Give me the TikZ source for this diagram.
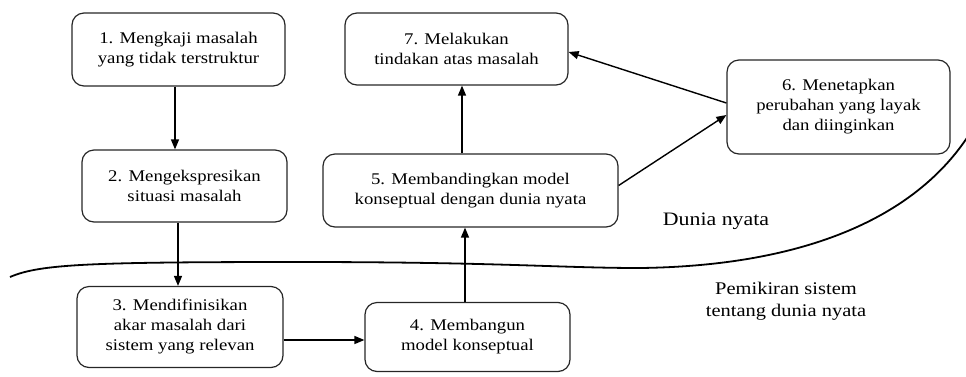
\documentclass[tikz,border=0pt]{standalone}
\usepackage{fontspec}
\setmainfont{Liberation Serif}[FakeStretch=1.15]
\usetikzlibrary{arrows.meta}
\begin{document}
\begin{tikzpicture}[x=1pt,y=-1pt,
  box/.style={draw=black!85,line width=1.2pt,rounded corners=12pt,align=center,
    font=\fontsize{16.3}{20}\selectfont,inner sep=0pt},
  lbl/.style={align=center,font=\fontsize{17.8}{22}\selectfont,fill=white,inner sep=0pt},
  arr/.style={line width=1.4pt,-{Triangle[length=10pt,width=8pt]}}]
\useasboundingbox (0,0) rectangle (966,376);
\node[box,minimum width=213pt,minimum height=73pt] (b1) at (178.5,49.5) {1. Mengkaji masalah\\yang tidak terstruktur};
\node[box,minimum width=205pt,minimum height=72pt] (b2) at (184.5,186) {2. Mengekspresikan\\situasi masalah};
\node[box,minimum width=206pt,minimum height=81pt] (b3) at (180,327) {3. Mendifinisikan\\akar masalah dari\\sistem yang relevan};
\node[box,minimum width=205pt,minimum height=69pt] (b4) at (467.5,337) {4. Membangun\\model konseptual};
\node[box,minimum width=295pt,minimum height=73pt] (b5) at (470.5,190.5) {5. Membandingkan model\\konseptual dengan dunia nyata};
\node[box,minimum width=223pt,minimum height=94pt] (b6) at (838.5,107) {6. Menetapkan\\perubahan yang layak\\dan diinginkan};
\node[box,minimum width=223pt,minimum height=72pt] (b7) at (456.5,49) {7. Melakukan\\tindakan atas masalah};
\node[lbl,font=\fontsize{19}{22}\selectfont] (d1) at (716,221) {Dunia nyata};
\node[lbl] (d2) at (786,301) {Pemikiran sistem\\tentang dunia nyata};
\draw[line width=1.8pt] (10,277) .. controls (40,264) and (90,262) .. (300,262)
  .. controls (500,262) and (560,268) .. (640,268)
  .. controls (800,266) and (920,220) .. (975,125);
\draw[arr] ([xshift=-3.5pt]b1.south) -- ([xshift=-9.5pt]b2.north);
\draw[arr] ([xshift=-6.5pt]b2.south) -- ([xshift=-2pt]b3.north);
\draw[arr] ([yshift=-13pt]b3.east) -- ([yshift=-3pt]b4.west);
\draw[arr] ([xshift=-2.5pt]b4.north) -- ([xshift=-5.5pt]b5.south);
\draw[arr] ([xshift=-8.5pt]b5.north) -- ([xshift=5.5pt]b7.south);
\draw[arr] ([yshift=5pt]b5.east) -- ([yshift=-8pt]b6.west);
\draw[arr] ([yshift=4pt]b6.west) -- ([yshift=-3pt]b7.east);
\end{tikzpicture}
\end{document}
